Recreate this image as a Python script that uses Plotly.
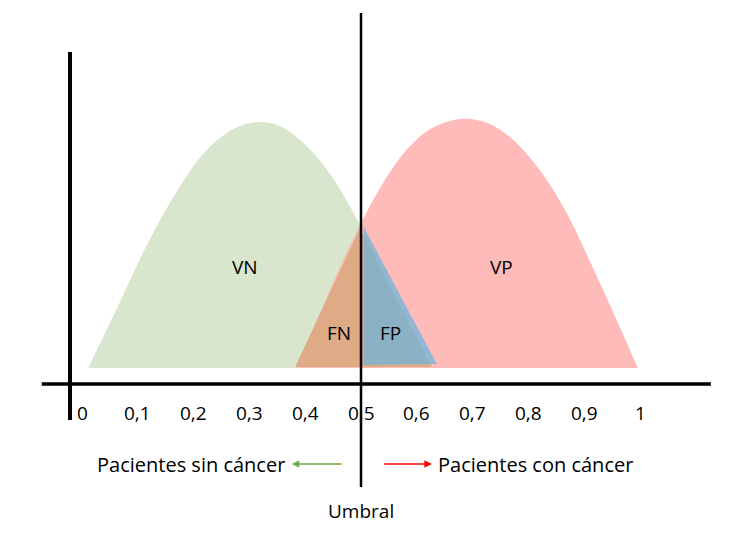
import plotly.graph_objects as go

# ---- data (x: score 0..1, y: density) ----
green_x = [0.011, 0.032, 0.068, 0.104, 0.140, 0.176, 0.211, 0.247, 0.283, 0.319, 0.355, 0.391, 0.427, 0.462, 0.498, 0.534, 0.570, 0.606, 0.615]
green_y = [0.00, 0.24, 0.66, 1.09, 1.48, 1.82, 2.10, 2.30, 2.42, 2.46, 2.42, 2.28, 2.07, 1.79, 1.43, 1.02, 0.58, 0.12, 0.00]

red_x = [0.385, 0.409, 0.444, 0.480, 0.516, 0.552, 0.588, 0.624, 0.659, 0.695, 0.731, 0.767, 0.803, 0.839, 0.875, 0.910, 0.946, 0.982, 0.996]
red_y = [0.00, 0.30, 0.78, 1.22, 1.62, 1.96, 2.22, 2.39, 2.47, 2.49, 2.44, 2.31, 2.10, 1.83, 1.48, 1.07, 0.63, 0.18, 0.00]

fn_x = [0.382, 0.498, 0.627]
fn_y = [0.01, 1.40, 0.01]

fp_x = [0.505, 0.505, 0.636]
fp_y = [1.41, 0.03, 0.04]

threshold = 0.5

tick_vals = [0, 0.1, 0.2, 0.3, 0.4, 0.5, 0.6, 0.7, 0.8, 0.9, 1]
tick_labels = ["0", "0,1", "0,2", "0,3", "0,4", "0,5", "0,6", "0,7", "0,8", "0,9", "1"]

region_labels = ["VN", "VP", "FN", "FP"]
region_x = [0.292, 0.752, 0.460, 0.552]
region_y = [1.01, 1.01, 0.35, 0.35]

FONT = "'Open Sans', sans-serif"

fig = go.Figure()

fig.add_trace(go.Scatter(x=green_x, y=green_y, mode="lines", line=dict(width=0, shape="spline", smoothing=1),
                         fill="toself", fillcolor="#d8e6cd", hoverinfo="skip", showlegend=False))
fig.add_trace(go.Scatter(x=red_x, y=red_y, mode="lines", line=dict(width=0, shape="spline", smoothing=1),
                         fill="toself", fillcolor="#ffbaba", hoverinfo="skip", showlegend=False))
fig.add_trace(go.Scatter(x=fn_x, y=fn_y, mode="lines", line=dict(width=0),
                         fill="toself", fillcolor="#dfaa86", hoverinfo="skip", showlegend=False))
fig.add_trace(go.Scatter(x=fp_x, y=fp_y, mode="lines", line=dict(width=0),
                         fill="toself", fillcolor="rgba(106,181,220,0.72)", hoverinfo="skip", showlegend=False))

# axes / threshold lines
fig.add_shape(type="line", x0=-0.0215, x1=-0.0215, y0=-0.52, y1=3.16, line=dict(color="black", width=4))
fig.add_shape(type="line", x0=-0.072, x1=1.127, y0=-0.16, y1=-0.16, line=dict(color="black", width=3.5))
fig.add_shape(type="line", x0=threshold, x1=threshold, y0=-1.19, y1=3.55, line=dict(color="black", width=2.5))

# region labels
for t, x, y in zip(region_labels, region_x, region_y):
    fig.add_annotation(x=x, y=y, text=t, showarrow=False, font=dict(family=FONT, size=19, color="black"))

# tick labels
for v, lab in zip(tick_vals, tick_labels):
    fig.add_annotation(x=v, y=-0.45, text=lab, showarrow=False, font=dict(family=FONT, size=19, color="black"))

# bottom texts and arrows
fig.add_annotation(x=0.367, y=-0.96, text="Pacientes sin cáncer", xanchor="right", showarrow=False,
                   font=dict(family=FONT, size=20, color="black"))
fig.add_annotation(x=0.634, y=-0.96, text="Pacientes con cáncer", xanchor="left", showarrow=False,
                   font=dict(family=FONT, size=20, color="black"))
fig.add_annotation(x=0.376, y=-0.96, ax=0.468, ay=-0.96, axref="x", ayref="y", text="", showarrow=True,
                   arrowhead=2, arrowsize=1, arrowwidth=1.5, arrowcolor="#70ad47")
fig.add_annotation(x=0.627, y=-0.96, ax=0.539, ay=-0.96, axref="x", ayref="y", text="", showarrow=True,
                   arrowhead=2, arrowsize=1, arrowwidth=1.5, arrowcolor="#ff0000")
fig.add_annotation(x=threshold, y=-1.43, text="Umbral", showarrow=False,
                   font=dict(family=FONT, size=19, color="black"))

fig.update_layout(
    width=727, height=525,
    margin=dict(l=0, r=0, t=0, b=0),
    paper_bgcolor="white", plot_bgcolor="white",
    xaxis=dict(range=[-74/558, 653/558], visible=False, fixedrange=True),
    yaxis=dict(range=[-1.65, 3.60], visible=False, fixedrange=True),
    showlegend=False,
)

fig.write_html("out.html")
